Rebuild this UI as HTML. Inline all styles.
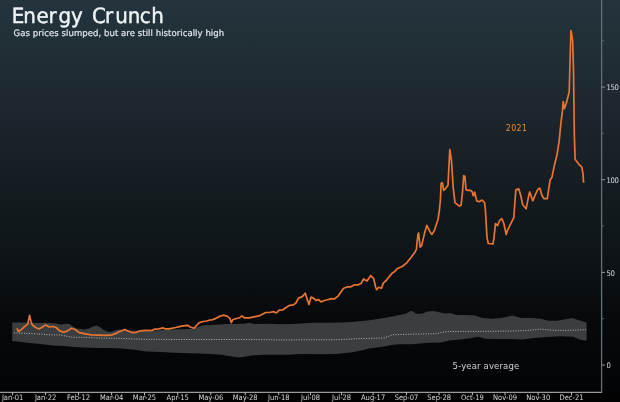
<!DOCTYPE html>
<html><head><meta charset="utf-8"><style>
html,body{margin:0;padding:0;}
body{width:620px;height:402px;overflow:hidden;position:relative;
background:linear-gradient(to bottom,#24343c 0%,#1f2b32 18.7%,#192026 38.5%,#121a1e 51%,#0f1519 61%,#090d10 73.4%,#05070a 84.6%,#030405 97.5%,#020303 100%);
font-family:"DejaVu Sans Condensed","DejaVu Sans","Liberation Sans",sans-serif;font-stretch:semi-condensed;}
svg{position:absolute;left:0;top:0;}
svg text{font-family:"DejaVu Sans Condensed","DejaVu Sans",sans-serif;font-stretch:semi-condensed;}
</style></head><body>
<svg width="620" height="402" viewBox="0 0 620 402">
<rect x="0" y="393" width="620" height="9" fill="#020202"/>
<text transform="scale(1.0524 1)" x="11.05 21.99 34.70 46.00 55.48 67.53 78.87 87.45 99.78 109.62 121.38 132.79 143.76" y="22.6" fill="#eef3f6" stroke="#eef3f6" stroke-width="0.4" font-size="21" style="text-rendering:geometricPrecision">Energy Crunch</text>
<text transform="scale(1.0674 1)" x="12.76" y="35.6" fill="#dfe5ea" stroke="#dfe5ea" stroke-width="0.2" font-size="8.9" letter-spacing="0.05" style="text-rendering:geometricPrecision">Gas prices slumped, but are still historically high</text>
<polygon points="12.2,322.5 30.0,322.5 36.0,323.0 45.0,322.8 55.0,323.5 60.0,324.5 62.9,324.2 65.8,323.7 69.7,323.9 72.6,326.6 77.4,328.6 84.2,329.5 89.0,328.6 92.9,326.6 96.8,325.6 100.7,327.6 103.6,330.0 108.4,331.9 112.3,331.5 116.1,330.0 120.0,329.5 130.0,330.5 150.0,331.0 170.0,329.5 190.0,329.0 197.0,327.3 203.9,325.3 213.6,324.8 220.3,324.4 225.2,323.9 234.7,324.1 244.4,323.7 249.2,322.7 254.0,324.1 268.6,323.7 280.0,324.2 293.7,323.9 312.8,322.8 327.9,322.8 341.6,322.5 355.0,321.8 369.5,320.3 384.0,318.1 398.5,315.2 405.8,313.8 410.2,310.9 413.0,311.6 416.0,313.8 421.8,313.8 427.6,311.6 433.4,310.9 439.2,312.3 445.0,313.5 450.3,313.0 456.8,314.9 465.8,314.9 474.8,315.5 482.6,318.1 491.6,318.8 500.6,318.1 507.1,316.8 512.3,315.5 515.0,316.2 521.5,318.1 531.8,318.1 540.8,318.8 548.5,320.7 557.6,320.7 564.0,319.4 571.8,318.1 578.2,320.1 586.6,322.6 586.6,340.7 579.5,339.4 573.1,336.8 560.2,336.2 547.3,337.1 534.4,338.1 522.7,339.4 515.0,339.2 511.0,339.0 498.0,339.0 485.2,338.8 478.0,336.8 470.0,338.2 460.0,339.5 450.0,340.5 440.0,342.4 427.6,342.8 413.0,344.3 398.5,344.3 391.3,345.0 384.0,346.4 369.5,348.6 360.0,350.8 352.5,352.2 345.7,352.9 334.7,354.0 321.0,354.2 310.0,354.1 299.3,354.1 288.7,354.8 274.5,354.8 263.8,354.8 253.2,355.3 246.1,356.5 239.0,357.4 231.9,356.5 221.3,354.8 210.6,354.1 200.0,353.5 189.3,353.3 175.1,352.8 160.9,352.1 146.7,351.5 134.3,349.8 121.9,348.5 107.7,347.9 100.0,347.9 90.0,347.8 82.3,347.6 74.5,347.1 64.2,346.1 52.6,345.5 42.3,344.2 29.4,342.9 17.7,341.6 12.2,341.0" fill="#3b3e3f"/>
<polyline points="14.0,332.8 30.0,333.5 50.0,334.8 60.0,335.0 72.0,337.2 87.0,337.4 100.0,338.1 120.0,338.4 145.0,339.3 175.0,339.5 200.0,339.5 250.0,339.5 280.0,339.9 337.5,339.7 360.0,338.6 384.0,338.0 392.7,334.8 413.0,334.1 436.3,333.7 442.0,332.2 450.0,331.5 480.0,331.4 515.0,331.0 527.9,330.4 540.8,329.1 553.7,330.4 566.6,330.4 586.0,329.7" fill="none" stroke="#b8b8b8" stroke-width="1" stroke-dasharray="1 1.5"/>
<polyline points="16.9,328.4 18.4,331.4 20.9,329.9 24.9,326.4 27.9,323.9 29.5,315.4 31.0,321.5 32.3,325.0 35.6,327.5 39.0,329.0 42.4,327.0 45.8,325.0 49.2,327.0 53.1,326.5 56.0,327.5 59.8,330.9 63.7,332.3 67.6,330.9 71.5,328.3 75.5,329.8 79.3,332.6 85.2,333.9 91.0,334.8 98.7,335.1 106.5,335.3 112.3,334.8 116.1,333.4 119.0,331.8 121.8,330.8 124.7,329.4 128.6,331.3 132.4,332.7 136.3,332.3 140.2,330.8 146.0,330.3 151.8,330.5 153.7,329.4 158.6,328.9 163.4,327.9 165.3,328.9 169.2,328.9 175.8,327.5 181.6,326.1 187.4,325.3 190.8,327.3 194.2,328.2 196.6,325.3 199.0,322.9 202.9,321.5 206.8,321.0 209.7,320.0 211.6,320.0 215.5,318.6 219.4,316.4 223.2,315.2 227.1,316.1 229.8,318.3 231.3,322.7 232.7,319.8 235.6,318.8 239.5,317.8 241.9,315.9 244.4,317.8 249.2,317.8 254.0,316.9 258.9,315.9 262.8,314.0 265.7,312.5 269.5,312.5 273.4,311.6 276.3,313.0 279.2,310.1 282.9,309.8 285.8,307.7 289.7,305.3 293.6,304.8 296.0,302.9 298.4,298.1 302.3,296.6 305.2,293.2 307.1,299.0 309.0,304.6 311.0,297.1 313.4,298.1 316.3,300.5 318.2,299.5 321.1,301.9 324.5,300.5 328.4,299.5 331.3,298.6 334.2,299.0 338.1,296.1 341.8,290.7 343.7,288.2 347.6,286.8 351.0,286.8 354.4,284.8 358.2,284.8 361.1,283.4 363.6,279.0 367.0,281.0 370.8,275.6 373.7,278.6 375.7,287.3 376.6,289.7 378.6,287.3 381.5,288.2 383.4,282.9 386.3,280.5 389.2,276.6 392.1,273.2 395.0,271.3 397.0,268.7 402.2,266.5 406.7,262.8 410.4,258.3 414.9,252.3 416.4,249.3 417.9,234.4 418.6,232.9 420.1,247.1 421.6,245.6 424.6,232.9 426.8,225.4 429.8,231.4 432.0,234.4 434.3,230.7 436.5,224.0 438.0,219.5 439.3,211.0 440.4,200.0 441.1,183.5 442.3,182.6 443.7,190.4 445.4,188.7 448.0,185.2 449.8,149.6 451.5,160.9 453.3,188.7 455.0,202.6 459.3,206.1 461.1,205.2 462.5,192.2 463.7,175.7 464.9,176.5 466.0,189.6 468.0,190.4 470.7,190.4 472.4,192.2 473.3,195.7 474.7,192.2 476.7,200.9 479.3,201.7 482.0,200.0 484.6,202.6 485.4,209.8 487.0,237.6 488.3,243.5 492.9,244.0 493.9,238.6 495.5,223.7 497.5,225.7 499.5,220.7 501.9,218.7 503.9,223.7 506.2,234.6 507.8,229.6 510.8,223.7 513.8,217.7 515.8,189.9 518.8,188.9 520.8,195.8 522.7,204.8 526.1,208.8 528.7,195.8 529.7,191.9 532.7,200.8 535.7,193.9 537.7,189.5 539.9,188.2 541.8,195.0 543.8,198.6 547.3,198.6 550.1,180.0 552.0,177.2 554.2,166.2 556.9,155.3 559.1,141.6 561.0,122.4 562.4,111.4 563.2,101.5 564.4,108.7 566.3,103.2 569.2,92.0 570.9,30.5 572.6,39.9 573.5,69.8 574.3,133.6 575.1,159.3 578.5,163.8 581.8,167.1 583.0,173.8 583.6,182.8" fill="none" stroke="#ea7432" stroke-width="1.7" stroke-linejoin="round"/>
<path d="M601.6,0V392.3" fill="none" stroke="#646f76" stroke-width="1.3"/><path d="M0,392.4H602" fill="none" stroke="#9a9a9a" stroke-width="1.2"/>
<path d="M601.5,365.0h3.5 M601.5,272.4h3.5 M601.5,179.7h3.5 M601.5,87.1h3.5 " stroke="#8a9398" stroke-width="1"/><path d="M602,318.7h2 M602,226.0h2 M602,133.4h2 M602,40.7h2 " stroke="#56626a" stroke-width="1"/>
<path d="M12.6,392.3v3 M45.6,392.3v3 M78.5,392.3v3 M111.6,392.3v3 M144.5,392.3v3 M177.7,392.3v3 M210.8,392.3v3 M245.2,392.3v3 M278.7,392.3v3 M310.5,392.3v3 M341.6,392.3v3 M373.1,392.3v3 M406.5,392.3v3 M439.1,392.3v3 M472.4,392.3v3 M505.0,392.3v3 M538.2,392.3v3 M571.5,392.3v3 " stroke="#bdbdbd" stroke-width="1"/>
<g fill="#d8d8d8" font-size="7.5"><text x="12.6" y="400.3" text-anchor="middle">Jan-01</text><text x="45.6" y="400.3" text-anchor="middle">Jan-22</text><text x="78.5" y="400.3" text-anchor="middle">Feb-12</text><text x="111.6" y="400.3" text-anchor="middle">Mar-04</text><text x="144.5" y="400.3" text-anchor="middle">Mar-25</text><text x="177.7" y="400.3" text-anchor="middle">Apr-15</text><text x="210.8" y="400.3" text-anchor="middle">May-06</text><text x="245.2" y="400.3" text-anchor="middle">May-28</text><text x="278.7" y="400.3" text-anchor="middle">Jun-18</text><text x="310.5" y="400.3" text-anchor="middle">Jul-08</text><text x="341.6" y="400.3" text-anchor="middle">Jul-28</text><text x="373.1" y="400.3" text-anchor="middle">Aug-17</text><text x="406.5" y="400.3" text-anchor="middle">Sep-07</text><text x="439.1" y="400.3" text-anchor="middle">Sep-28</text><text x="472.4" y="400.3" text-anchor="middle">Oct-19</text><text x="505.0" y="400.3" text-anchor="middle">Nov-09</text><text x="538.2" y="400.3" text-anchor="middle">Nov-30</text><text x="571.5" y="400.3" text-anchor="middle">Dec-21</text></g>
<g fill="#d8dde0" font-size="7.6" letter-spacing="-0.3"><text x="606.5" y="368.2">0</text><text x="606.5" y="275.6">50</text><text x="606.5" y="182.9">100</text><text x="606.5" y="90.3">150</text></g>
<text x="505.8" y="131.4" fill="#e88d36" font-size="8.7" letter-spacing="0.4">2021</text>
<text x="452.6" y="368.8" fill="#d4d4d4" font-size="8.5" letter-spacing="0.14" style="font-stretch:normal;font-family:'DejaVu Sans',sans-serif">5-year average</text>
</svg>
</body></html>
